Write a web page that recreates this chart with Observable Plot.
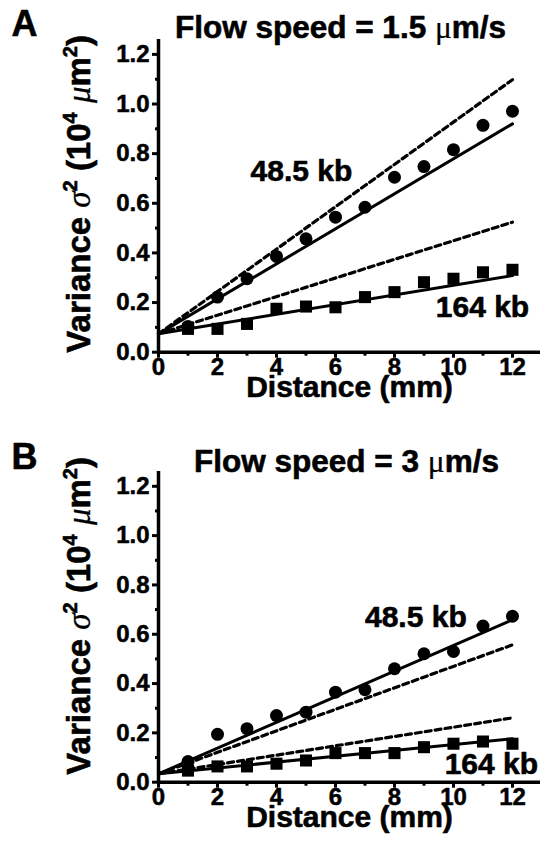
<!DOCTYPE html>
<html><head><meta charset="utf-8">
<script src="https://cdn.jsdelivr.net/npm/d3@7"></script>
<script src="https://cdn.jsdelivr.net/npm/@observablehq/plot@0.6"></script>
<style>
body{margin:0;background:#fff;}
#chart{width:540px;height:844px;overflow:hidden;}
svg{display:block;}
</style></head><body><div id="chart"></div>
<script>
const distance = [1,2,3,4,5,6,7,8,9,10,11,12];
const a485 = [0.104,0.222,0.296,0.386,0.457,0.544,0.584,0.705,0.748,0.816,0.914,0.971];
const a164 = [0.094,0.094,0.114,0.175,0.184,0.181,0.222,0.242,0.282,0.296,0.322,0.332];
const b485 = [0.084,0.194,0.217,0.270,0.284,0.365,0.375,0.460,0.521,0.530,0.633,0.673];
const b164 = [0.047,0.064,0.064,0.075,0.088,0.118,0.118,0.118,0.142,0.156,0.165,0.156];
const fitX = [0, 12];
const aSolid485 = [0.074, 0.920];
const aDash485 = [0.074, 1.098];
const aSolid164 = [0.074, 0.309];
const aDash164 = [0.074, 0.524];
const bSolid485 = [0.034, 0.659];
const bDash485 = [0.034, 0.557];
const bSolid164 = [0.034, 0.176];
const bDash164 = [0.034, 0.261];
const xTicks = [0,2,4,6,8,10,12];
const xMinor = [1,3,5,7,9,11];
const yTicks = [0,0.2,0.4,0.6,0.8,1.0,1.2];
const yMinor = [0.1,0.3,0.5,0.7,0.9,1.1];
const titles = ["Flow speed = 1.5 μm/s", "Flow speed = 3 μm/s"];
const panelLetters = ["A","B"];
const yLabel = "Variance σ2 (104 μm2)";
const xLabel = "Distance (mm)";
const labelsA = [{x:3.12,y:0.688,text:"48.5 kb"},{x:9.4,y:0.141,text:"164 kb"}];
const labelsB = [{x:7.0,y:0.629,text:"48.5 kb"},{x:9.7,y:0.034,text:"164 kb"}];

const FONT = "'Liberation Sans', Arial, Helvetica, sans-serif";
const TS = {stroke:"#000", strokeWidth:0.6, fill:"#000"};

function panel(o) {
  const p485 = distance.map((d,i)=>({x:d,y:o.v485[i]}));
  const p164 = distance.map((d,i)=>({x:d,y:o.v164[i]}));
  const ln = ys => fitX.map((x,i)=>({x, y: ys[i]}));
  const svg = Plot.plot({
    width:540, height:422,
    marginLeft:158, marginRight:0, marginTop:o.mt, marginBottom:o.mb,
    x:{domain:[0,12.95]}, y:{domain:[0,1.26]},
    style:{fontFamily:FONT, color:"#000", background:"#fff", overflow:"visible"},
    marks:[
      Plot.axisY({ticks:yMinor, tickSize:3, strokeWidth:3, tickFormat:()=>"", label:null}),
      Plot.axisY({ticks:yTicks, tickSize:6, strokeWidth:3, tickPadding:3, tickFormat:d3.format(".1f"), fontSize:24, fontWeight:"bold", label:null, textStroke:"#000", textStrokeWidth:0.5}),
      Plot.axisX({ticks:xMinor, tickSize:4, strokeWidth:3, tickFormat:()=>"", label:null}),
      Plot.axisX({ticks:xTicks, tickSize:6, strokeWidth:3, tickPadding:0, fontSize:24, fontWeight:"bold", label:null, textStroke:"#000", textStrokeWidth:0.5}),
      Plot.ruleX([0],{strokeWidth:3.5}),
      Plot.ruleY([0],{strokeWidth:3.5}),
      Plot.line(ln(o.dash485),{x:"x",y:"y",strokeWidth:3.2,strokeDasharray:"6,4"}),
      Plot.line(ln(o.dash164),{x:"x",y:"y",strokeWidth:3.2,strokeDasharray:"6,4"}),
      Plot.line(ln(o.solid485),{x:"x",y:"y",strokeWidth:3}),
      Plot.line(ln(o.solid164),{x:"x",y:"y",strokeWidth:3}),
      Plot.dot(p485,{x:"x",y:"y",r:6.5,fill:"#000",stroke:null}),
      Plot.dot(p164,{x:"x",y:"y",r:6.8,symbol:"square",fill:"#000",stroke:null}),
      Plot.text(o.labels,{x:"x",y:"y",text:"text",textAnchor:"start",lineAnchor:"bottom",fontSize:30,fontWeight:"bold",...TS}),
      Plot.text([o.title],{frameAnchor:"top",lineAnchor:"bottom",dx:o.tdx,dy:o.tdy,fontSize:31.5,fontWeight:"bold",...TS}),
      Plot.text([o.letter],{frameAnchor:"top-left",textAnchor:"start",lineAnchor:"bottom",dx:-147,dy:o.ldy,fontSize:36,fontWeight:"bold",...TS}),
      Plot.text([yLabel],{frameAnchor:"left",rotate:-90,dx:-79,dy:o.ydy,fontSize:33,fontWeight:"bold",...TS}),
      Plot.text([xLabel],{frameAnchor:"bottom",lineAnchor:"bottom",dy:44.5,fontSize:30,fontWeight:"bold",...TS})
    ]
  });
  const s = d3.select(svg);
  s.selectAll("text").filter(function(){return this.textContent===yLabel;})
   .attr("text-anchor","middle")
   .html(
    'Variance <tspan font-family="Liberation Serif, serif" font-style="italic" font-weight="normal" stroke-width="0.3">σ</tspan>' +
    '<tspan font-size="20" dy="-13">2</tspan><tspan dy="13"> (10</tspan>' +
    '<tspan font-size="20" dy="-13">4</tspan><tspan dy="13"> </tspan>' +
    '<tspan font-family="Liberation Serif, serif" font-style="italic" font-weight="normal" stroke-width="0.3">μ</tspan>m' +
    '<tspan font-size="20" dy="-13">2</tspan><tspan dy="13">)</tspan>');
  s.selectAll("text").filter(function(){return this.textContent===o.title;})
   .html(o.title.replace("μ",'<tspan font-family="Liberation Serif, serif" font-weight="normal" stroke-width="0.2">μ</tspan>'));
  return svg;
}

const chart = document.getElementById("chart");
chart.appendChild(panel({v485:a485,v164:a164,solid485:aSolid485,dash485:aDash485,solid164:aSolid164,dash164:aDash164,
  labels:labelsA,title:titles[0],letter:panelLetters[0],mt:39,mb:70.3,tdx:-9,tdy:-2,ldy:-4,ydy:-2}));
chart.appendChild(panel({v485:b485,v164:b164,solid485:bSolid485,dash485:bDash485,solid164:bSolid164,dash164:bDash164,
  labels:labelsB,title:titles[1],letter:panelLetters[1],mt:49,mb:62.3,tdx:-3,tdy:0,ldy:-3,ydy:-11}));
</script></body></html>
